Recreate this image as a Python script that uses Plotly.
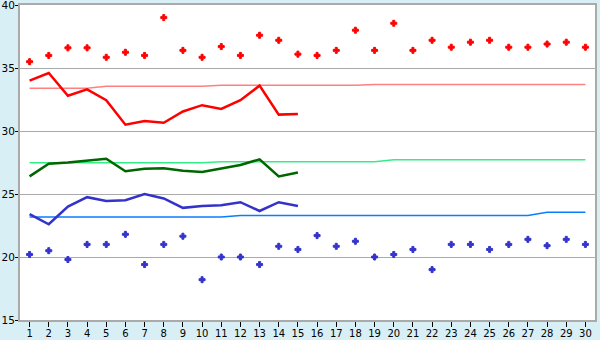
import plotly.graph_objects as go

days = list(range(1, 31))

high_daily = [35.5, 36.0, 36.6, 36.6, 35.85, 36.25, 36.0, 39.0, 36.4, 35.85,
              36.7, 36.0, 37.6, 37.2, 36.1, 36.0, 36.4, 38.0, 36.4, 38.55,
              36.4, 37.2, 36.65, 37.05, 37.2, 36.65, 36.65, 36.9, 37.05, 36.65]
low_daily = [20.2, 20.5, 19.8, 21.0, 21.0, 21.8, 19.4, 21.0, 21.65, 18.2,
             20.0, 20.0, 19.4, 20.85, 20.6, 21.7, 20.85, 21.25, 20.0, 20.2,
             20.6, 19.0, 21.0, 21.0, 20.6, 21.0, 21.4, 20.9, 21.4, 21.0]

obs_days = list(range(1, 16))
high_mean = [34.0, 34.6, 32.8, 33.3, 32.45, 30.5, 30.8, 30.65, 31.55, 32.05,
             31.75, 32.45, 33.6, 31.3, 31.35]
avg_mean = [26.4, 27.4, 27.5, 27.65, 27.8, 26.8, 27.0, 27.05, 26.85, 26.75,
            27.05, 27.3, 27.75, 26.4, 26.7]
low_mean = [23.4, 22.6, 24.0, 24.75, 24.45, 24.5, 25.0, 24.65, 23.9, 24.05,
            24.1, 24.35, 23.65, 24.35, 24.05]

normal_high = [33.4] * 4 + [33.56] * 6 + [33.63] * 8 + [33.7] * 12
normal_avg = [27.48] * 10 + [27.56] * 9 + [27.72] * 11
normal_low = [23.18] * 11 + [23.3] * 16 + [23.55] * 3

fig = go.Figure()
fig.add_trace(go.Scatter(x=days, y=normal_high, mode="lines",
                         line=dict(color="#ff8080", width=1.5), hoverinfo="skip"))
fig.add_trace(go.Scatter(x=days, y=normal_avg, mode="lines",
                         line=dict(color="#33ee88", width=1.5), hoverinfo="skip"))
fig.add_trace(go.Scatter(x=days, y=normal_low, mode="lines",
                         line=dict(color="#0a7cff", width=1.5), hoverinfo="skip"))
fig.add_trace(go.Scatter(x=obs_days, y=high_mean, mode="lines",
                         line=dict(color="#ff0000", width=2.5)))
fig.add_trace(go.Scatter(x=obs_days, y=avg_mean, mode="lines",
                         line=dict(color="#006600", width=2.5)))
fig.add_trace(go.Scatter(x=obs_days, y=low_mean, mode="lines",
                         line=dict(color="#3333cc", width=2.5)))
fig.add_trace(go.Scatter(x=days, y=high_daily, mode="markers",
                         marker=dict(symbol="cross", size=5, color="#ff0000",
                                     line=dict(color="#ff0000", width=1))))
fig.add_trace(go.Scatter(x=days, y=low_daily, mode="markers",
                         marker=dict(symbol="cross", size=5, color="#3333cc",
                                     line=dict(color="#3333cc", width=1))))

axis_font = dict(family="DejaVu Sans", size=10, color="#000000")
fig.update_layout(
    width=600, height=340,
    margin=dict(l=20, r=5, t=5, b=20, autoexpand=False),
    paper_bgcolor="#d9eff6",
    plot_bgcolor="#ffffff",
    showlegend=False,
    xaxis=dict(range=[0.5, 30.5], tickmode="array", tickvals=days,
               ticktext=[str(d) for d in days], ticks="outside", ticklen=5,
               tickcolor="#000000", showgrid=False, zeroline=False,
               showline=True, linecolor="#aaaaaa", linewidth=2, mirror=True,
               tickfont=axis_font, fixedrange=True, automargin=False,
               ticklabeloverflow="allow", ticklabelstandoff=-2),
    yaxis=dict(range=[15, 40], tickmode="array", tickvals=[15, 20, 25, 30, 35, 40],
               ticks="outside", ticklen=3, tickcolor="#000000",
               showgrid=True, gridcolor="#aaaaaa", gridwidth=1, zeroline=False,
               showline=True, linecolor="#aaaaaa", linewidth=2, mirror=True,
               tickfont=dict(family="DejaVu Sans", size=10.5, color="#000000"),
               fixedrange=True, automargin=False,
               ticklabeloverflow="allow", ticklabelstandoff=-2),
)

fig.write_html("out.html")
